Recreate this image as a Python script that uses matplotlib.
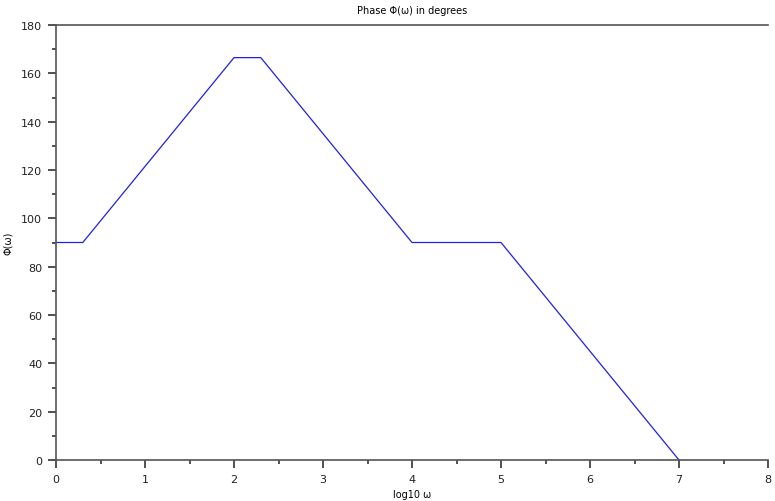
import numpy as np
from matplotlib import pyplot as plt
from matplotlib.ticker import MultipleLocator

# asymptotic phase curve (corner points)
log_w = [0, 0.301, 2.0, 2.301, 4.0, 5.0, 7.0]
phase = [90, 90, 166.5, 166.5, 90, 90, 0]

x_ticks = [0, 1, 2, 3, 4, 5, 6, 7, 8]
y_ticks = [0, 20, 40, 60, 80, 100, 120, 140, 160, 180]

fig = plt.figure(figsize=(7.75, 5.02), dpi=100)
ax_w = 712
ax = fig.add_axes([56 / 775, 41 / 502, ax_w / 775, 435 / 502])

ax.plot(log_w, phase, color='#2020e0', linewidth=0.9)

ax.set_xlim(0, 8)
ax.set_ylim(0, 180)
ax.set_xticks(x_ticks)
ax.set_yticks(y_ticks)
ax.xaxis.set_minor_locator(MultipleLocator(0.5))
ax.yaxis.set_minor_locator(MultipleLocator(10))

for side in ['left', 'bottom', 'top']:
    ax.spines[side].set_color('#555555')
    ax.spines[side].set_linewidth(1.2)
ax.spines['right'].set_visible(False)

ax.tick_params(which='major', direction='out', length=6, width=1.2,
               color='#333333', labelsize=8, labelcolor='#222222', pad=4)
ax.tick_params(which='minor', direction='out', length=3, width=1.2,
               color='#333333')
ax.tick_params(top=False, which='both')

ax.set_title('Phase \u03a6(\u03c9) in degrees', fontsize=7, pad=9)
ax.set_xlabel('log10 \u03c9', fontsize=7)
ax.set_ylabel('\u03a6(\u03c9)', fontsize=7)
ax.yaxis.set_label_coords(-(56 - 13) / ax_w, 0.5)
ax.xaxis.set_label_coords(0.5, -(490 - 461) / 435)

plt.savefig('out.png', dpi=100)
